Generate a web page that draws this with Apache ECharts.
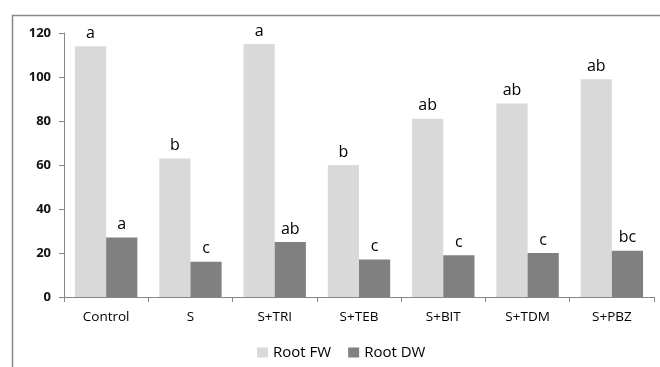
<!DOCTYPE html>
<html>
<head>
<meta charset="utf-8">
<script src="https://cdn.jsdelivr.net/npm/echarts@6/dist/echarts.min.js"></script>
<style>
html,body{margin:0;padding:0;background:#fff;}
#chart{width:660px;height:367px;}
</style>
</head>
<body>
<div id="chart"></div>
<script>
var categories = ['Control', 'S', 'S+TRI', 'S+TEB', 'S+BIT', 'S+TDM', 'S+PBZ'];
var rootFW = [114, 63, 115, 60, 81, 88, 99];
var rootDW = [27, 16, 25, 17, 19, 20, 21];
var lettersFW = ['a', 'b', 'a', 'b', 'ab', 'ab', 'ab'];
var lettersDW = ['a', 'c', 'ab', 'c', 'c', 'c', 'bc'];
var yTicks = [0, 20, 40, 60, 80, 100, 120];

var chart = echarts.init(document.getElementById('chart'), null, {renderer: 'canvas'});
var fontFam = '"Open Sans", "Noto Sans", sans-serif';
var labelStyle = function (letters) {
  return {
    show: true,
    position: 'top',
    distance: 5,
    fontFamily: fontFam,
    fontSize: 16,
    color: '#000',
    formatter: function (p) { return letters[p.dataIndex]; }
  };
};
chart.setOption({
  animation: false,
  backgroundColor: '#fff',
  graphic: [{
    type: 'rect',
    shape: {x: 12.5, y: 15.5, width: 700, height: 400},
    style: {fill: 'none', stroke: '#878787', lineWidth: 1.5},
    silent: true
  }],
  grid: {left: 64, right: 6, top: 33, bottom: 70, containLabel: false},
  legend: {
    left: 252,
    top: 340,
    itemWidth: 11,
    itemHeight: 10,
    itemGap: 17,
    itemTextGap: 6,
    icon: 'rect',
    textStyle: {fontFamily: fontFam, fontSize: 15, color: '#000'},
    data: ['Root FW', 'Root DW']
  },
  xAxis: {
    type: 'category',
    data: categories,
    axisLine: {lineStyle: {color: '#868686', width: 1}},
    axisTick: {show: true, length: 5, lineStyle: {color: '#868686'}},
    axisLabel: {fontFamily: fontFam, fontSize: 13.5, color: '#000', margin: 13}
  },
  yAxis: {
    type: 'value',
    min: yTicks[0],
    max: yTicks[yTicks.length - 1],
    interval: 20,
    axisLine: {show: true, lineStyle: {color: '#868686', width: 1}},
    axisTick: {show: true, length: 5, lineStyle: {color: '#868686'}},
    splitLine: {show: false},
    axisLabel: {fontFamily: fontFam, fontSize: 13, fontWeight: 'bold', color: '#111', margin: 13}
  },
  series: [
    {
      name: 'Root FW',
      type: 'bar',
      data: rootFW,
      barGap: '0%',
      barCategoryGap: '26%',
      itemStyle: {color: '#d9d9d9'},
      label: labelStyle(lettersFW)
    },
    {
      name: 'Root DW',
      type: 'bar',
      data: rootDW,
      barGap: '0%',
      barCategoryGap: '26%',
      itemStyle: {color: '#808080'},
      label: labelStyle(lettersDW)
    }
  ]
});
</script>
</body>
</html>
